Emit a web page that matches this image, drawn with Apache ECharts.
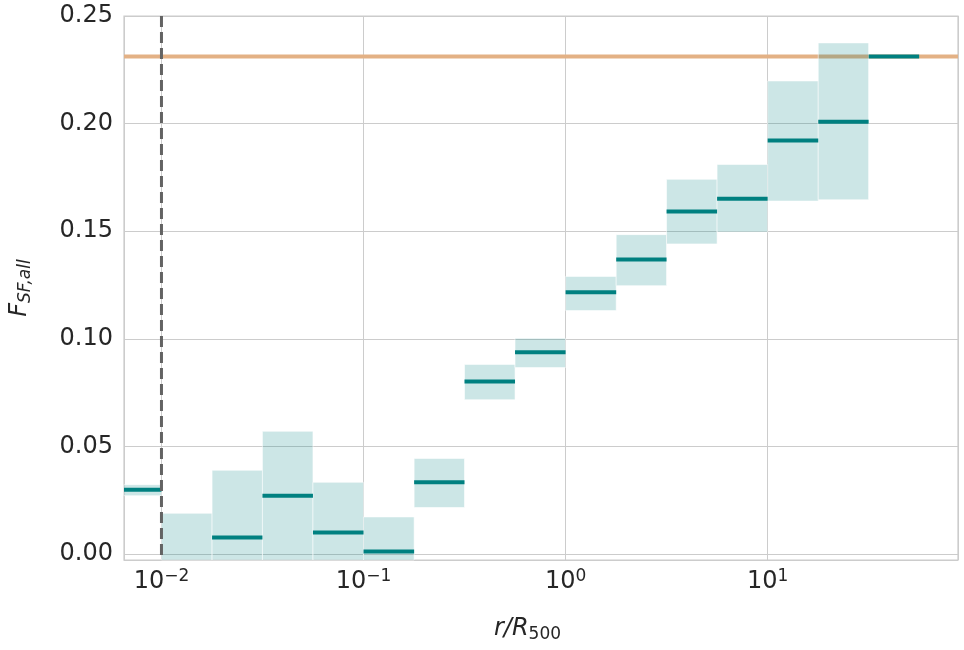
<!DOCTYPE html>
<html lang="en">
  <head>
    <meta charset="UTF-8" />
    <title>F_SF,all vs r/R500</title>
    <script src="https://cdn.jsdelivr.net/npm/echarts@6.0.0/dist/echarts.min.js"></script>
    <style>
      body { margin: 0; background: #fff; }
      #main { width: 964px; height: 650px; }
    </style>
  </head>
  <body>
    <div id="main"></div>
    <script>
      // bin edges in r/R500 (quarter-decade bins)
      var binEdges = [0.00562, 0.01, 0.0178, 0.0316, 0.0562, 0.1, 0.178, 0.316, 0.562,
        1, 1.78, 3.16, 5.62, 10, 17.8, 31.6, 56.2];
      // median per bin (null = not visible)
      var medians = [0.0299, null, 0.0077, 0.0271, 0.0100, 0.0011, 0.0333, 0.0801, 0.0937,
        0.1216, 0.1368, 0.1591, 0.1651, 0.1922, 0.2009, 0.2312];
      // shaded spread per bin
      var bandLow = [0.0271, -0.01, -0.01, -0.01, -0.01, -0.01, 0.0216, 0.0717, 0.0866,
        0.1131, 0.1247, 0.1441, 0.1496, 0.1640, 0.1646, null];
      var bandHigh = [0.0322, 0.0189, 0.0389, 0.0570, 0.0333, 0.0172, 0.0444, 0.0881, 0.1002,
        0.1290, 0.1484, 0.1741, 0.1810, 0.2198, 0.2375, null];
      var refLevel = 0.2312;   // horizontal orange line
      var innerLimit = 0.01;   // vertical dashed line
      var xRange = [0.006525, 87.5];
      var yRange = [-0.0028, 0.25];

      var TEXT = "#262626";
      var FONT = "DejaVu Sans";

      var bandData = [];
      var medianData = [];
      for (var i = 0; i < medians.length; i++) {
        if (bandLow[i] != null && bandHigh[i] != null) {
          bandData.push([binEdges[i], binEdges[i + 1], bandLow[i], bandHigh[i]]);
        }
        if (medians[i] != null) {
          medianData.push([binEdges[i], binEdges[i + 1], medians[i]]);
        }
      }

      function gridRect(params) {
        var cs = params.coordSys;
        return { x: cs.x, y: cs.y, width: cs.width, height: cs.height };
      }

      function renderBand(params, api) {
        var p0 = api.coord([api.value(0), api.value(3)]);
        var p1 = api.coord([api.value(1), api.value(2)]);
        var shape = echarts.graphic.clipRectByRect({
          x: p0[0], y: p0[1], width: p1[0] - p0[0], height: p1[1] - p0[1]
        }, gridRect(params));
        return shape && {
          type: "rect",
          shape: shape,
          style: { fill: "rgba(0,128,128,0.2)", stroke: "rgba(255,255,255,0.55)", lineWidth: 1 }
        };
      }

      function renderMedian(params, api) {
        var p0 = api.coord([api.value(0), api.value(2)]);
        var p1 = api.coord([api.value(1), api.value(2)]);
        var shape = echarts.graphic.clipRectByRect({
          x: p0[0], y: p0[1] - 2, width: p1[0] - p0[0], height: 4
        }, gridRect(params));
        return shape && { type: "rect", shape: shape, style: { fill: "#008080" } };
      }

      // horizontal reference line across the whole grid
      function renderRefLevel(params, api) {
        var g = gridRect(params);
        var y = api.coord([xRange[0], api.value(0)])[1];
        return {
          type: "line",
          shape: { x1: g.x, y1: y, x2: g.x + g.width, y2: y },
          style: { stroke: "#e3b185", lineWidth: 4 }
        };
      }

      // vertical dashed line over the whole grid height
      function renderInnerLimit(params, api) {
        var g = gridRect(params);
        var x = api.coord([api.value(0), yRange[1]])[0];
        return {
          type: "line",
          shape: { x1: x, y1: g.y, x2: x, y2: g.y + g.height },
          style: { stroke: "#636363", lineWidth: 3, lineDash: [11, 5] }
        };
      }

      var sup = { "-2": "−2", "-1": "−1", "0": "0", "1": "1" };

      var myChart = echarts.init(document.getElementById("main"));
      var option = {
        animation: false,
        textStyle: { fontFamily: FONT },
        grid: {
          left: 121, right: 6, top: 16, bottom: 90,
          show: true, borderColor: "#cccccc", borderWidth: 1.25,
          backgroundColor: "#ffffff"
        },
        xAxis: {
          type: "log",
          logBase: 10,
          min: xRange[0],
          max: xRange[1],
          name: "{i|r/R}{sub|500}",
          nameLocation: "middle",
          nameGap: 55,
          nameTextStyle: {
            padding: [0, 27, 0, 0],
            rich: {
              i: { fontFamily: FONT, fontStyle: "italic", fontSize: 24, color: TEXT, lineHeight: 28 },
              sub: { fontFamily: FONT, fontSize: 17, color: TEXT, lineHeight: 16, verticalAlign: "bottom" }
            }
          },
          axisLine: { show: false },
          axisTick: { show: false },
          splitLine: { show: true, lineStyle: { color: "#cccccc", width: 1 } },
          axisLabel: {
            margin: 8,
            formatter: function (v) {
              var e = Math.log10(v);
              var r = Math.round(e);
              if (Math.abs(e - r) > 1e-6 || sup[String(r)] == null) return "";
              return "{b|10}{s|" + sup[String(r)] + "}";
            },
            rich: {
              b: { fontFamily: FONT, fontSize: 24, color: TEXT, lineHeight: 28 },
              s: { fontFamily: FONT, fontSize: 17, color: TEXT, lineHeight: 17, verticalAlign: "top" }
            }
          }
        },
        yAxis: {
          type: "value",
          min: yRange[0],
          max: yRange[1],
          splitNumber: 5,
          name: "{i|F}{sub|SF,all}",
          nameLocation: "middle",
          nameGap: 90,
          nameRotate: 90,
          nameTextStyle: {
            rich: {
              i: { fontFamily: FONT, fontStyle: "italic", fontSize: 24, color: TEXT, lineHeight: 28 },
              sub: { fontFamily: FONT, fontStyle: "italic", fontSize: 17, color: TEXT, lineHeight: 16, verticalAlign: "bottom" }
            }
          },
          axisLine: { show: false },
          axisTick: { show: false },
          splitLine: { show: true, lineStyle: { color: "#cccccc", width: 1 } },
          axisLabel: {
            margin: 11,
            fontSize: 24,
            color: TEXT,
            fontFamily: FONT,
            formatter: function (v) {
              return v < 0 ? "" : v.toFixed(2);
            }
          }
        },
        series: [
          {
            type: "custom",
            z: 1,
            silent: true,
            renderItem: renderRefLevel,
            encode: { y: 0 },
            data: [[refLevel]]
          },
          {
            type: "custom",
            z: 2,
            renderItem: renderBand,
            encode: { x: [0, 1], y: [2, 3] },
            data: bandData
          },
          {
            type: "custom",
            z: 3,
            renderItem: renderMedian,
            encode: { x: [0, 1], y: 2 },
            data: medianData
          },
          {
            type: "custom",
            z: 4,
            silent: true,
            renderItem: renderInnerLimit,
            encode: { x: 0 },
            data: [[innerLimit]]
          }
        ]
      };
      myChart.setOption(option);
    </script>
  </body>
</html>
